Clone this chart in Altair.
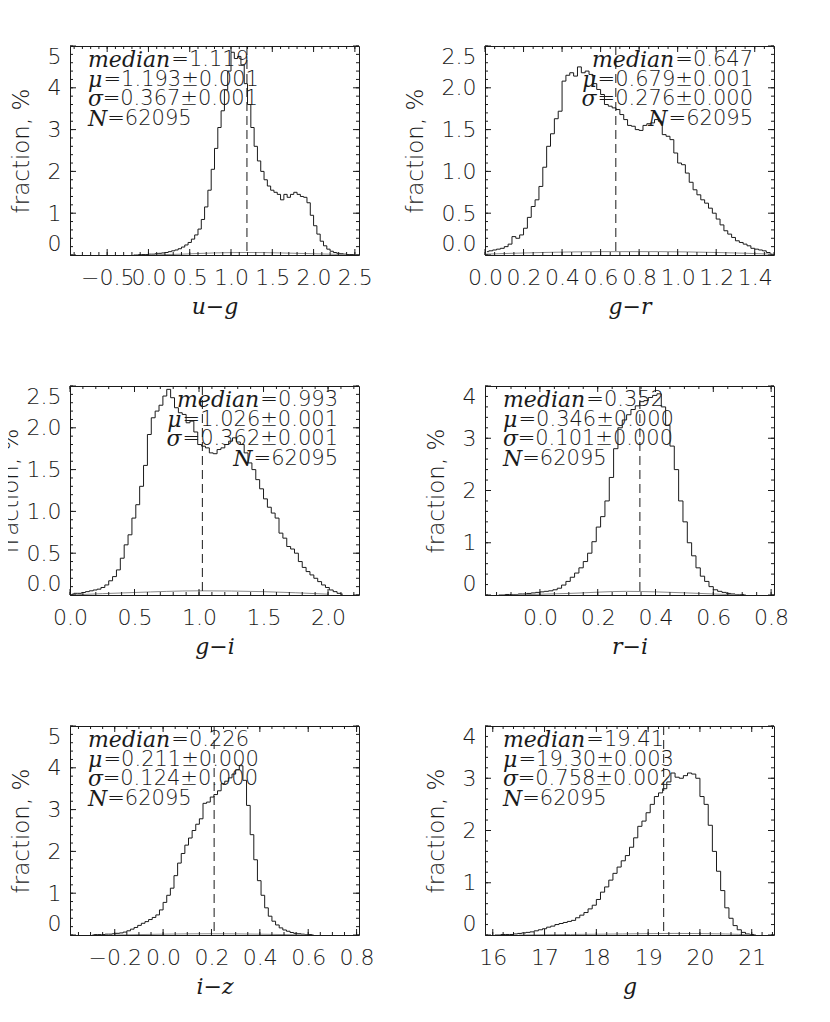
import math
import altair as alt
import pandas as pd

# ---------------- data (fraction, %) ----------------
# u-g : bins of 0.04 starting at -0.20
UG_START, UG_STEP = -0.20, 0.04
UG_VALUES = [0.00, 0.00, 0.01, 0.01, 0.01, 0.02, 0.02, 0.03, 0.04, 0.05,
             0.06, 0.08, 0.10, 0.12, 0.15, 0.19, 0.24, 0.30, 0.38, 0.48,
             0.62, 0.85, 1.15, 1.55, 2.05, 2.55, 3.05, 3.45, 3.95, 4.40,
             4.85, 4.70, 4.75, 4.55, 4.10, 3.60, 3.05, 2.60, 2.25, 2.00,
             1.80, 1.65, 1.55, 1.50, 1.45, 1.32, 1.45, 1.38, 1.45, 1.50,
             1.45, 1.40, 1.38, 1.25, 0.95, 0.70, 0.50, 0.33, 0.22, 0.14,
             0.09, 0.06, 0.04, 0.03, 0.02, 0.01, 0.01, 0.00]
UG_FAINT_X = [0.0, 0.4, 0.8, 1.2, 1.6, 2.0, 2.4]
UG_FAINT_Y = [0.00, 0.02, 0.05, 0.06, 0.05, 0.03, 0.01]

# g-r : bins of 0.02 starting at 0.00
GR_START, GR_STEP = 0.00, 0.02
GR_VALUES = [0.04, 0.05, 0.06, 0.07, 0.08, 0.10, 0.13, 0.22, 0.20, 0.24,
             0.32, 0.45, 0.58, 0.66, 0.82, 1.05, 1.30, 1.45, 1.63, 1.72,
             2.08, 2.15, 2.18, 2.14, 2.25, 2.18, 2.20, 2.16, 2.05, 1.98,
             1.92, 1.80, 1.78, 1.76, 1.74, 1.68, 1.62, 1.55, 1.54, 1.50,
             1.49, 1.55, 1.57, 1.58, 1.62, 1.60, 1.44, 1.42, 1.38, 1.22,
             1.10, 1.08, 0.98, 0.87, 0.78, 0.72, 0.66, 0.62, 0.56, 0.50,
             0.43, 0.36, 0.29, 0.25, 0.21, 0.17, 0.15, 0.13, 0.11, 0.08,
             0.07, 0.06, 0.05, 0.03, 0.01]
GR_FAINT_X = [0.0, 0.3, 0.6, 0.9, 1.2, 1.5]
GR_FAINT_Y = [0.01, 0.03, 0.04, 0.04, 0.03, 0.01]

# g-i : bins of 0.03 starting at 0.00
GI_START, GI_STEP = 0.00, 0.03
GI_VALUES = [0.01, 0.02, 0.02, 0.03, 0.04, 0.05, 0.06, 0.07, 0.09, 0.12,
             0.17, 0.22, 0.30, 0.44, 0.60, 0.72, 0.92, 1.08, 1.30, 1.55,
             1.92, 2.12, 2.20, 2.27, 2.38, 2.46, 2.36, 2.24, 2.18, 2.16,
             2.06, 2.08, 1.95, 1.80, 1.78, 1.76, 1.70, 1.69, 1.74, 1.76,
             1.80, 1.84, 1.88, 1.83, 1.80, 1.70, 1.58, 1.50, 1.38, 1.27,
             1.15, 1.05, 0.98, 0.92, 0.74, 0.68, 0.58, 0.55, 0.50, 0.40,
             0.33, 0.28, 0.24, 0.20, 0.16, 0.12, 0.09, 0.06, 0.04, 0.02,
             0.01]
GI_FAINT_X = [0.0, 0.5, 1.0, 1.5, 2.0]
GI_FAINT_Y = [0.00, 0.03, 0.05, 0.04, 0.01]

# r-i : bins of 0.015 starting at -0.150
RI_START, RI_STEP = -0.150, 0.015
RI_VALUES = [0.00, 0.00, 0.01, 0.01, 0.01, 0.02, 0.02, 0.03, 0.04, 0.05,
             0.06, 0.07, 0.08, 0.10, 0.13, 0.19, 0.26, 0.34, 0.42, 0.52,
             0.64, 0.80, 1.02, 1.30, 1.50, 1.80, 2.25, 2.80, 3.20, 3.35,
             3.45, 3.55, 3.62, 3.70, 3.72, 3.78, 3.82, 3.85, 3.60, 3.25,
             2.85, 2.40, 1.80, 1.40, 1.00, 0.75, 0.52, 0.36, 0.26, 0.16,
             0.10, 0.07, 0.05, 0.03, 0.02, 0.01, 0.01, 0.00]
RI_FAINT_X = [-0.1, 0.1, 0.3, 0.4, 0.6, 0.7]
RI_FAINT_Y = [0.00, 0.03, 0.07, 0.06, 0.02, 0.00]

# i-z : bins of 0.015 starting at -0.300
IZ_START, IZ_STEP = -0.300, 0.015
IZ_VALUES = [0.00, 0.01, 0.01, 0.01, 0.02, 0.02, 0.03, 0.04, 0.05, 0.07,
             0.10, 0.14, 0.18, 0.23, 0.28, 0.32, 0.37, 0.42, 0.48, 0.60,
             0.78, 0.95, 1.12, 1.42, 1.72, 1.95, 2.15, 2.32, 2.50, 2.65,
             2.78, 3.15, 3.18, 3.30, 3.36, 3.45, 3.62, 3.68, 3.76, 3.85,
             3.95, 4.05, 3.70, 3.10, 2.40, 1.80, 1.30, 0.95, 0.65, 0.45,
             0.33, 0.24, 0.17, 0.12, 0.09, 0.06, 0.04, 0.03, 0.02, 0.01,
             0.01, 0.00]
IZ_FAINT_X = [-0.2, 0.0, 0.2, 0.4, 0.6]
IZ_FAINT_Y = [0.00, 0.02, 0.03, 0.02, 0.00]

# g : bins of 0.08 starting at 16.00
G_START, G_STEP = 16.00, 0.08
G_VALUES = [0.00, 0.00, 0.01, 0.01, 0.01, 0.02, 0.03, 0.04, 0.05, 0.06,
            0.08, 0.10, 0.12, 0.15, 0.17, 0.20, 0.22, 0.24, 0.26, 0.28,
            0.33, 0.38, 0.43, 0.50, 0.57, 0.68, 0.82, 0.92, 1.05, 1.18,
            1.30, 1.42, 1.52, 1.68, 1.86, 2.08, 2.18, 2.34, 2.50, 2.65,
            2.72, 2.80, 2.93, 3.10, 3.02, 3.00, 3.05, 3.10, 3.08, 3.00,
            2.65, 2.50, 2.10, 1.60, 1.22, 0.85, 0.52, 0.32, 0.18, 0.10,
            0.05, 0.02, 0.01, 0.00]
G_FAINT_X = [16.5, 17.5, 18.5, 19.5, 20.5, 21.0]
G_FAINT_Y = [0.00, 0.01, 0.02, 0.03, 0.02, 0.00]

# statistics printed in each panel
UG_STATS = [("median", "=1.119"), ("μ", "=1.193±0.001"), ("σ", "=0.367±0.001"), ("N", "=62095")]
GR_STATS = [("median", "=0.647"), ("μ", "=0.679±0.001"), ("σ", "=0.276±0.000"), ("N", "=62095")]
GI_STATS = [("median", "=0.993"), ("μ", "=1.026±0.001"), ("σ", "=0.362±0.001"), ("N", "=62095")]
RI_STATS = [("median", "=0.352"), ("μ", "=0.346±0.000"), ("σ", "=0.101±0.000"), ("N", "=62095")]
IZ_STATS = [("median", "=0.226"), ("μ", "=0.211±0.000"), ("σ", "=0.124±0.000"), ("N", "=62095")]
G_STATS = [("median", "=19.41"), ("μ", "=19.30±0.003"), ("σ", "=0.758±0.002"), ("N", "=62095")]

MEANS = [1.193, 0.679, 1.026, 0.346, 0.211, 19.30]

# axis tick labels
UG_XTICKS = [-0.5, 0.0, 0.5, 1.0, 1.5, 2.0, 2.5]
GR_XTICKS = [0.0, 0.2, 0.4, 0.6, 0.8, 1.0, 1.2, 1.4]
GI_XTICKS = [0.0, 0.5, 1.0, 1.5, 2.0]
RI_XTICKS = [0.0, 0.2, 0.4, 0.6, 0.8]
IZ_XTICKS = [-0.2, 0.0, 0.2, 0.4, 0.6, 0.8]
G_XTICKS = [16, 17, 18, 19, 20, 21]
Y5_TICKS = [0, 1, 2, 3, 4, 5]
Y4_TICKS = [0, 1, 2, 3, 4]
Y25_TICKS = [0.0, 0.5, 1.0, 1.5, 2.0, 2.5]

# ---------------- styling ----------------
W, H = 289, 209
INK = "#1a1a1a"
SANS = "DejaVu Sans"
SERIF = "DejaVu Serif"
LABEL_FS = 22
ANN_FS = 21
ANN_WIDTH_SCALE = 1.0
IT_FS = 22
LINE0, LINE_DY = 14, 19.7

PANELS = [
    dict(start=UG_START, step=UG_STEP, values=UG_VALUES, fx=UG_FAINT_X, fy=UG_FAINT_Y,
         xdom=[-0.95, 2.55], ydom=[0, 5], xticks=UG_XTICKS, xminor=0.1, yticks=Y5_TICKS, yminor=0.2,
         xfmt=".1f", yfmt="d", xtitle="u−g", stats=UG_STATS, side="left", ytp=14),
    dict(start=GR_START, step=GR_STEP, values=GR_VALUES, fx=GR_FAINT_X, fy=GR_FAINT_Y,
         xdom=[0.0, 1.5], ydom=[0, 2.5], xticks=GR_XTICKS, xminor=0.05, yticks=Y25_TICKS, yminor=0.1,
         xfmt=".1f", yfmt=".1f", xtitle="g−r", stats=GR_STATS, side="right", ytp=14),
    dict(start=GI_START, step=GI_STEP, values=GI_VALUES, fx=GI_FAINT_X, fy=GI_FAINT_Y,
         xdom=[0.0, 2.24], ydom=[0, 2.5], xticks=GI_XTICKS, xminor=0.1, yticks=Y25_TICKS, yminor=0.1,
         xfmt=".1f", yfmt=".1f", xtitle="g−i", stats=GI_STATS, side="right", ytp=4),
    dict(start=RI_START, step=RI_STEP, values=RI_VALUES, fx=RI_FAINT_X, fy=RI_FAINT_Y,
         xdom=[-0.19, 0.81], ydom=[0, 4], xticks=RI_XTICKS, xminor=0.05, yticks=Y4_TICKS, yminor=0.2,
         xfmt=".1f", yfmt="d", xtitle="r−i", stats=RI_STATS, side="left", ytp=14),
    dict(start=IZ_START, step=IZ_STEP, values=IZ_VALUES, fx=IZ_FAINT_X, fy=IZ_FAINT_Y,
         xdom=[-0.385, 0.81], ydom=[0, 5], xticks=IZ_XTICKS, xminor=0.05, yticks=Y5_TICKS, yminor=0.2,
         xfmt=".1f", yfmt="d", xtitle="i−z", stats=IZ_STATS, side="left", ytp=14),
    dict(start=G_START, step=G_STEP, values=G_VALUES, fx=G_FAINT_X, fy=G_FAINT_Y,
         xdom=[15.85, 21.43], ydom=[0, 4], xticks=G_XTICKS, xminor=0.2, yticks=Y4_TICKS, yminor=0.2,
         xfmt="d", yfmt="d", xtitle="g", stats=G_STATS, side="left", ytp=14),
]

SANS_W = {".": 0.318, "=": 0.838, "±": 0.838}
SERIF_IT_W = {"median": 3.74, "μ": 0.66, "σ": 0.62, "N": 0.83}


def sans_width(s):
    return sum(SANS_W.get(c, 0.636) for c in s) * ANN_FS * ANN_WIDTH_SCALE


def grid(lo, hi, step):
    out = []
    k = math.ceil(lo / step - 1e-9)
    while k * step <= hi + 1e-9:
        out.append(round(k * step, 6))
        k += 1
    return out


ONE = pd.DataFrame({"a": [0]})


def text_mark(s, px, py, align, italic):
    if italic:
        style = dict(font=SERIF, fontSize=IT_FS, fontStyle="italic", fontWeight="normal")
    else:
        style = dict(font=SANS, fontSize=ANN_FS, fontStyle="normal", fontWeight=300)
    return alt.Chart(ONE).mark_text(
        align=align, baseline="middle", color=INK, **style
    ).encode(x=alt.value(px), y=alt.value(py), text=alt.value(s))


def tick_layers(vals, orient, length):
    base = alt.Chart(pd.DataFrame({"x": vals, "v": vals})).mark_rule(color=INK, strokeWidth=1)
    if orient == "x":
        return [
            base.encode(x="x:Q", y=alt.value(H), y2=alt.value(H - length)),
            base.encode(x="x:Q", y=alt.value(0), y2=alt.value(length)),
        ]
    return [
        base.encode(y="v:Q", x=alt.value(0), x2=alt.value(length)),
        base.encode(y="v:Q", x=alt.value(W), x2=alt.value(W - length)),
    ]


def panel(p, mean):
    xs = [p["start"] + p["step"] * (i + 0.5) for i in range(len(p["values"]))]
    hist = pd.DataFrame({"x": xs, "v": p["values"]})
    xsc = alt.Scale(domain=p["xdom"], nice=False, zero=False)
    ysc = alt.Scale(domain=p["ydom"], nice=False, zero=False)
    main = alt.Chart(hist).mark_line(interpolate="step", color=INK, strokeWidth=1, clip=True).encode(
        x=alt.X("x:Q", scale=xsc, title=p["xtitle"],
                axis=alt.Axis(values=p["xticks"], format=p["xfmt"], title=p["xtitle"])),
        y=alt.Y("v:Q", scale=ysc, title="fraction, %",
                axis=alt.Axis(values=p["yticks"], format=p["yfmt"], title="fraction, %",
                              titlePadding=p["ytp"])),
    )
    faint = alt.Chart(pd.DataFrame({"x": p["fx"], "v": p["fy"]})).mark_line(
        color="#8a8a8a", strokeWidth=1, interpolate="monotone", clip=True
    ).encode(x="x:Q", y="v:Q")
    mrule = alt.Chart(pd.DataFrame({"x": [mean]})).mark_rule(
        color=INK, strokeWidth=1, strokeDash=[9, 5]
    ).encode(x="x:Q")

    lo, hi = p["xdom"]
    layers = [main, faint, mrule]
    layers += tick_layers(grid(lo, hi, p["xminor"]), "x", 3)
    layers += tick_layers([t for t in p["xticks"] if lo <= t <= hi], "x", 6)
    ylo, yhi = p["ydom"]
    layers += tick_layers(grid(ylo, yhi, p["yminor"]), "y", 3)
    layers += tick_layers(p["yticks"], "y", 6)

    for i, (it, rest) in enumerate(p["stats"]):
        py = LINE0 + LINE_DY * i
        if p["side"] == "left":
            x0 = 18
            anchor = x0 + SERIF_IT_W[it] * IT_FS + 1
            layers.append(text_mark(it, x0, py, "left", True))
            layers.append(text_mark(rest, anchor, py, "left", False))
        else:
            xr = W - 21
            anchor = xr - sans_width(rest)
            layers.append(text_mark(rest, xr, py, "right", False))
            layers.append(text_mark(it, anchor - 1, py, "right", True))

    return alt.layer(*layers).properties(width=W, height=H)


chart = alt.concat(
    *[panel(p, m) for p, m in zip(PANELS, MEANS)],
    columns=2,
    spacing=alt.RowColnumber(row=131, column=126),
    bounds="flush",
).properties(
    padding={"left": -10, "top": 36, "right": 5, "bottom": 5},
    background="white",
).configure_view(
    stroke=INK, strokeWidth=1
).configure_axis(
    labelFont=SANS, labelFontSize=LABEL_FS, labelColor=INK, titleColor=INK,
    labelFontWeight=300,
    grid=False, ticks=False, domain=False, labelOverlap=False, labelBound=False,
).configure_axisX(
    labelFlush=False, labelPadding=12, titlePadding=8,
    titleFont=SERIF, titleFontStyle="italic", titleFontSize=22, titleFontWeight="normal",
).configure_axisY(
    labelFlush=True, labelFlushOffset=0, labelPadding=9,
    titleFont=SANS, titleFontSize=23, titleFontWeight=300,
)

chart.save("out.html", embed_options={"renderer": "svg", "actions": False})
